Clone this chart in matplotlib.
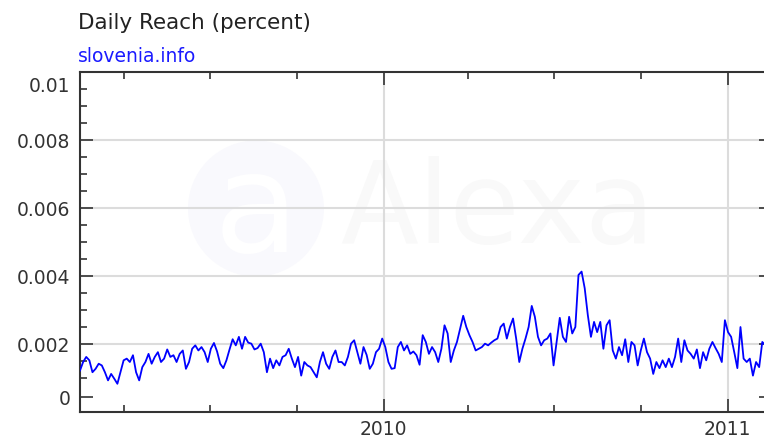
import numpy as np
import pandas as pd
import matplotlib
matplotlib.use("Agg")
import matplotlib.pyplot as plt
import matplotlib.dates as mdates
from matplotlib.patches import Ellipse
from matplotlib.ticker import FixedLocator, FixedFormatter
from matplotlib.transforms import ScaledTranslation

# Chart data (roughly one reading every ~3.5 days)
START_DATE = "2009-02-13"
END_DATE = "2011-02-10"
reach_milli = [
    1.22, 1.47, 1.62, 1.52, 1.17, 1.27, 1.42, 1.37, 1.17, 0.93, 1.12, 0.98, 0.83, 1.17,
    1.52, 1.57, 1.47, 1.67, 1.17, 0.93, 1.32, 1.47, 1.71, 1.42, 1.62, 1.76, 1.47, 1.57,
    1.84, 1.62, 1.67, 1.47, 1.71, 1.81, 1.27, 1.47, 1.86, 1.96, 1.81, 1.91, 1.76, 1.47,
    1.86, 2.03, 1.78, 1.42, 1.29, 1.52, 1.84, 2.14, 1.96, 2.21, 1.86, 2.21, 2.04, 2.01,
    1.84, 1.88, 2.01, 1.76, 1.17, 1.57, 1.29, 1.52, 1.37, 1.62, 1.67, 1.86, 1.57, 1.32,
    1.62, 1.07, 1.47, 1.37, 1.32, 1.17, 1.02, 1.47, 1.76, 1.42, 1.27, 1.62, 1.81, 1.47,
    1.47, 1.37, 1.62, 2.01, 2.11, 1.76, 1.42, 1.91, 1.68, 1.27, 1.42, 1.76, 1.86, 2.16,
    1.91, 1.47, 1.27, 1.29, 1.91, 2.06, 1.81, 1.96, 1.71, 1.78, 1.67, 1.39, 2.26, 2.06,
    1.71, 1.91, 1.76, 1.47, 1.86, 2.55, 2.31, 1.47, 1.81, 2.06, 2.45, 2.83, 2.50, 2.26,
    2.06, 1.81, 1.86, 1.91, 2.01, 1.96, 2.04, 2.11, 2.16, 2.50, 2.60, 2.16, 2.50, 2.75,
    2.16, 1.47, 1.86, 2.16, 2.50, 3.12, 2.80, 2.21, 1.96, 2.11, 2.16, 2.31, 1.37, 2.06,
    2.77, 2.21, 2.06, 2.80, 2.31, 2.50, 4.03, 4.13, 3.64, 2.85, 2.21, 2.65, 2.35, 2.65,
    1.86, 2.55, 2.70, 1.81, 1.57, 1.91, 1.67, 2.14, 1.47, 2.06, 1.96, 1.37, 1.81, 2.16,
    1.76, 1.57, 1.12, 1.47, 1.29, 1.52, 1.32, 1.57, 1.32, 1.62, 2.16, 1.47, 2.11, 1.81,
    1.71, 1.57, 1.84, 1.29, 1.76, 1.52, 1.86, 2.06, 1.88, 1.71, 1.47, 2.70, 2.35, 2.21,
    1.76, 1.29, 2.50, 1.57, 1.47, 1.57, 1.07, 1.47, 1.32, 2.06, 1.96,
]
y_major = [0.00044, 0.002, 0.004, 0.006, 0.008, 0.01]
y_labels = ["0", "0.002", "0.004", "0.006", "0.008", "0.01"]
y_grid = [0.002, 0.004, 0.006, 0.008]

dates = pd.date_range(START_DATE, END_DATE, periods=len(reach_milli))
reach = np.array(reach_milli) / 1000.0

TEXT = "#333333"
fig = plt.figure(figsize=(7.64, 4.44), dpi=100)
ax = fig.add_axes([80 / 764, 32 / 444, 692 / 764, 340 / 444])

# faint Alexa watermark
ax.add_patch(Ellipse((0.2543, 0.5985), 0.1965, 0.40, transform=ax.transAxes,
                     facecolor="#f9f9fd", edgecolor="none", zorder=0))
ax.text(0.2543, 0.585, "a", transform=ax.transAxes, fontsize=100, color="white",
        ha="center", va="center", zorder=0.5)
ax.text(0.3757, 0.497, "Alexa", transform=ax.transAxes, fontsize=82, color="#f9f9f9",
        ha="left", va="baseline", zorder=0.5)

# grid
for g in y_grid:
    ax.axhline(g, color="#dcdcdc", lw=1.5, zorder=1)
for yr in ["2010-01-01", "2011-01-01"]:
    ax.axvline(pd.Timestamp(yr), color="#dcdcdc", lw=1.5, zorder=1)

ax.plot(dates, reach, color="#0000ff", lw=1.3, zorder=3)

ax.set_xlim(pd.Timestamp("2009-02-13"), pd.Timestamp("2011-02-17"))
ax.set_ylim(0, 0.01)

ax.xaxis.set_major_locator(mdates.YearLocator())
ax.xaxis.set_major_formatter(mdates.DateFormatter("%Y"))
ax.xaxis.set_minor_locator(mdates.MonthLocator(bymonth=[4, 7, 10]))

ax.yaxis.set_major_locator(FixedLocator(y_major))
ax.yaxis.set_major_formatter(FixedFormatter(y_labels))
minor_y = [v for v in np.arange(0.001, 0.01, 0.0005) if min(abs(v - m) for m in y_major) > 1e-5]
ax.yaxis.set_minor_locator(FixedLocator(minor_y))

for s in ax.spines.values():
    s.set_color(TEXT)
    s.set_linewidth(1.5)
ax.tick_params(which="both", direction="in", top=True, right=True, colors=TEXT,
               labelsize=13.5, width=1.2)
ax.tick_params(which="major", length=9.5)
ax.tick_params(which="minor", length=5)
ax.tick_params(axis="y", pad=7)
ax.tick_params(axis="x", pad=6)

fig.canvas.draw()
# keep the top label inside the frame like the original
top_label = ax.yaxis.get_major_ticks()[-1].label1
top_label.set_transform(top_label.get_transform() + ScaledTranslation(0, -0.13, fig.dpi_scale_trans))

fig.text(78 / 764, 1 - 29 / 444, "Daily Reach (percent)", fontsize=15.5, color="#222222",
         va="baseline", ha="left")
fig.text(78 / 764, 1 - 62 / 444, "slovenia.info", fontsize=13.5, color="#1a1aff",
         va="baseline", ha="left")

fig.savefig("out.png", dpi=100)
